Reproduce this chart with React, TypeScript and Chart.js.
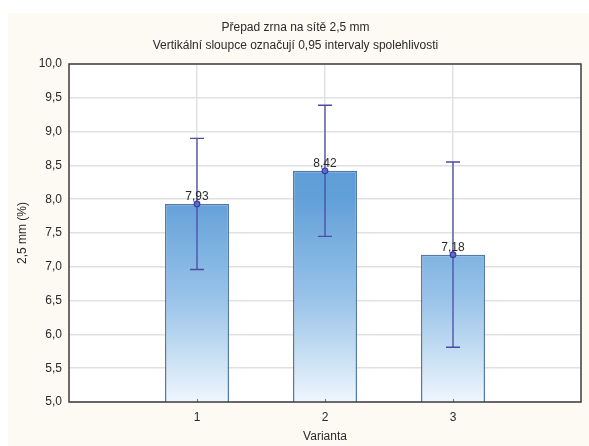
import { useEffect, useRef } from "react";
import { Chart, registerables } from "chart.js";

Chart.register(...registerables);

// Variants on the x axis and their mean sieve overflow (%)
const categories = [1, 2, 3];
const means = [7.93, 8.42, 7.18];
// 0.95 confidence interval bounds
const ciLower = [6.96, 7.45, 5.81];
const ciUpper = [8.9, 9.39, 8.55];

const titleLines = [
  "Přepad zrna na sítě 2,5 mm",
  "Vertikální sloupce označují 0,95 intervaly spolehlivosti",
];
const xTitle = "Varianta";
const yTitle = "2,5 mm (%)";
const yMin = 5;
const yMax = 10;
const yStep = 0.5;
const xMin = 0;
const xMax = 4;

const FONT = "'Liberation Sans', Arial, sans-serif";
const TEXT = "#2a2a2a";
const GRID = "#e1e1e1";
const ERR = "#4a4ca6";

const comma = (v: number, d: number) => v.toFixed(d).replace(".", ",");

const plotPlugin = {
  id: "plotDecor",
  beforeDraw(chart: any) {
    const { ctx, chartArea: a } = chart;
    ctx.save();
    ctx.fillStyle = "#ffffff";
    ctx.fillRect(a.left, a.top, a.right - a.left, a.bottom - a.top);
    ctx.restore();
  },
  afterDatasetsDraw(chart: any) {
    const { ctx, chartArea: a, scales } = chart;
    const x = scales.x;
    const y = scales.y;
    ctx.save();

    // small tick marks along the bottom axis
    ctx.strokeStyle = "#777";
    ctx.lineWidth = 1;
    categories.forEach((c) => {
      const px = Math.round(x.getPixelForValue(c)) + 0.5;
      ctx.beginPath();
      ctx.moveTo(px, a.bottom);
      ctx.lineTo(px, a.bottom - 3);
      ctx.stroke();
    });

    // frame around the plot area
    ctx.strokeStyle = "#3c3c3c";
    ctx.lineWidth = 1.5;
    ctx.strokeRect(a.left, a.top, a.right - a.left, a.bottom - a.top);

    // confidence interval whiskers
    ctx.strokeStyle = ERR;
    ctx.lineWidth = 1.3;
    categories.forEach((c, i) => {
      const px = x.getPixelForValue(c);
      const yt = y.getPixelForValue(ciUpper[i]);
      const yb = y.getPixelForValue(ciLower[i]);
      ctx.beginPath();
      ctx.moveTo(px, yt);
      ctx.lineTo(px, yb);
      ctx.moveTo(px - 7, yt);
      ctx.lineTo(px + 7, yt);
      ctx.moveTo(px - 7, yb);
      ctx.lineTo(px + 7, yb);
      ctx.stroke();
    });

    // mean markers
    categories.forEach((c, i) => {
      const px = x.getPixelForValue(c);
      const py = y.getPixelForValue(means[i]);
      ctx.beginPath();
      ctx.arc(px, py, 2.8, 0, Math.PI * 2);
      ctx.fillStyle = "#5a70c8";
      ctx.fill();
      ctx.strokeStyle = "#3a3c9e";
      ctx.lineWidth = 1.2;
      ctx.stroke();
    });

    // value labels
    ctx.fillStyle = TEXT;
    ctx.font = `12px ${FONT}`;
    ctx.textAlign = "center";
    ctx.textBaseline = "bottom";
    categories.forEach((c, i) => {
      const px = x.getPixelForValue(c);
      const py = y.getPixelForValue(means[i]);
      ctx.fillText(comma(means[i], 2), px, py - 1);
    });

    ctx.restore();
  },
};

export default function App() {
  const canvasRef = useRef<HTMLCanvasElement | null>(null);

  useEffect(() => {
    const canvas = canvasRef.current;
    if (!canvas) return;

    const barFill = (c: any) => {
      const chart = c.chart;
      const a = chart.chartArea;
      if (!a) return "#7fb0df";
      const g = chart.ctx.createLinearGradient(0, a.top, 0, a.bottom);
      g.addColorStop(0, "#5090d0");
      g.addColorStop(0.4, "#62a0d9");
      g.addColorStop(0.7, "#9ac4e9");
      g.addColorStop(1, "#eef6fd");
      return g;
    };

    const chart = new Chart(canvas, {
      type: "bar",
      data: {
        datasets: [
          {
            data: categories.map((c, i) => ({ x: c, y: means[i] })),
            backgroundColor: barFill,
            borderColor: "#5577aa",
            borderWidth: 1.5,
            borderSkipped: "start",
            barPercentage: 0.5,
            categoryPercentage: 1,
          },
        ],
      },
      options: {
        responsive: false,
        animation: false,
        layout: { padding: { left: 0, right: 6, top: 0, bottom: 0 } },
        plugins: {
          legend: { display: false },
          tooltip: { enabled: false },
          title: {
            display: true,
            text: titleLines,
            color: TEXT,
            font: { family: FONT, size: 12, weight: "normal", lineHeight: 1.5 },
            padding: { top: 6, bottom: 9 },
          },
        },
        scales: {
          x: {
            type: "linear",
            min: xMin,
            max: xMax,
            offset: false,
            ticks: {
              stepSize: 1,
              padding: 8,
              color: TEXT,
              font: { family: FONT, size: 12 },
              callback: (v: any) => (categories.includes(Number(v)) ? String(v) : ""),
            },
            grid: {
              offset: false,
              color: (c: any) =>
                c.tick && categories.includes(c.tick.value) ? GRID : "rgba(0,0,0,0)",
              lineWidth: 1.5,
              drawTicks: false,
            },
            border: { display: false },
            title: {
              display: true,
              text: xTitle,
              color: TEXT,
              font: { family: FONT, size: 12 },
              padding: { top: 0, bottom: 2 },
            },
            afterFit: (s: any) => {
              s.height = 44;
            },
          },
          y: {
            min: yMin,
            max: yMax,
            ticks: {
              stepSize: yStep,
              padding: 7,
              color: TEXT,
              font: { family: FONT, size: 12 },
              callback: (v: any) => comma(Number(v), 1),
            },
            grid: { color: GRID, lineWidth: 1.5, drawTicks: false },
            border: { display: false },
            title: {
              display: true,
              text: yTitle,
              color: TEXT,
              font: { family: FONT, size: 12 },
              padding: { top: 7, bottom: 0 },
            },
            afterFit: (s: any) => {
              s.width = 61;
            },
          },
        },
      },
      plugins: [plotPlugin],
    } as any);

    return () => chart.destroy();
  }, []);

  return (
    <div
      style={{
        position: "fixed",
        left: 8,
        top: 13,
        width: 581,
        height: 433,
        background: "#fcfaf2",
      }}
    >
      <canvas ref={canvasRef} width={581} height={433} style={{ display: "block" }} />
    </div>
  );
}
